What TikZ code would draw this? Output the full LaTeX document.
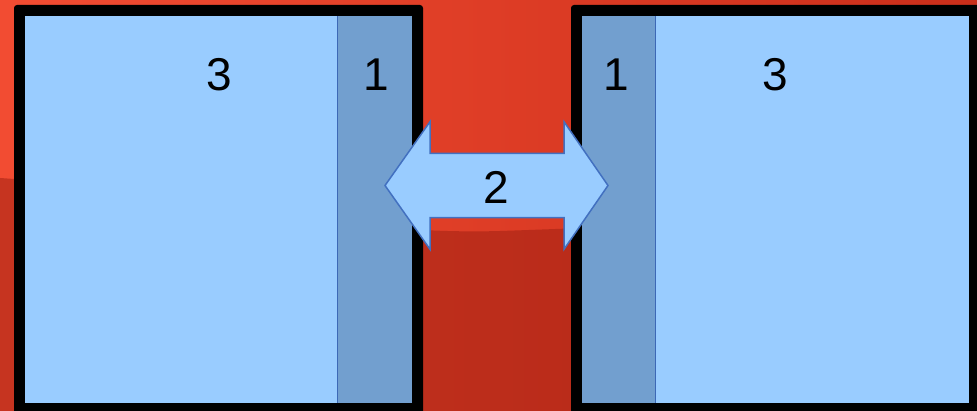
\documentclass[tikz,border=0pt]{standalone}
\usepackage{fontspec}
\setmainfont{Liberation Sans}
\begin{document}
\begin{tikzpicture}[x=1pt,y=-1pt,
  digit/.style={font=\fontsize{46}{50}\selectfont, text=black, inner sep=0pt},
  frame/.style={fill=black, rounded corners=3pt},
  panel/.style={fill=lightblue},
  stripbox/.style={fill=stripblue},
  stripedge/.style={draw=stripline, line width=1.4pt}]
\definecolor{bgA}{RGB}{242,76,50}
\definecolor{bgB}{RGB}{224,60,34}
\definecolor{bgC}{RGB}{202,46,26}
\definecolor{lowA}{RGB}{198,52,32}
\definecolor{lowB}{RGB}{178,38,22}
\definecolor{lightblue}{RGB}{153,204,255}
\definecolor{stripblue}{RGB}{114,159,207}
\definecolor{stripline}{RGB}{60,104,182}
\definecolor{arrowline}{RGB}{66,112,192}
\useasboundingbox (0,0) rectangle (977,411);
% background
\shade[left color=bgA, middle color=bgB, right color=bgC] (0,0) rectangle (977,411);
\shade[left color=lowA, right color=lowB]
  (0,178) .. controls (180,190) and (330,236) .. (500,231)
  .. controls (680,225) and (850,214) .. (977,214) -- (977,411) -- (0,411) -- cycle;
% left box
\fill[frame] (14,5) rectangle (423,418);
\fill[panel] (25,16) rectangle (412,403);
\fill[stripbox] (337,16) rectangle (412,403);
\draw[stripedge] (337.5,16) -- (337.5,403);
% right box
\fill[frame] (571,5) rectangle (982,418);
\fill[panel] (582,16) rectangle (969,403);
\fill[stripbox] (582,16) rectangle (656,403);
\draw[stripedge] (655.5,16) -- (655.5,403);
% double arrow
\filldraw[fill=lightblue, draw=arrowline, line width=1.5pt, line join=miter]
  (385,185.5) -- (430,121.7) -- (430,153.3) -- (564,153.3) -- (564,121.7)
  -- (608,185.5) -- (564,249.3) -- (564,217.7) -- (430,217.7) -- (430,249.3) -- cycle;
% labels
\node[digit] (l3) at (219,75) {3};
\node[digit] (l1) at (376,75) {1};
\node[digit] (r1) at (616,75) {1};
\node[digit] (r3) at (775,75) {3};
\node[digit] (m2) at (496.5,187) {2};
\end{tikzpicture}
\end{document}
